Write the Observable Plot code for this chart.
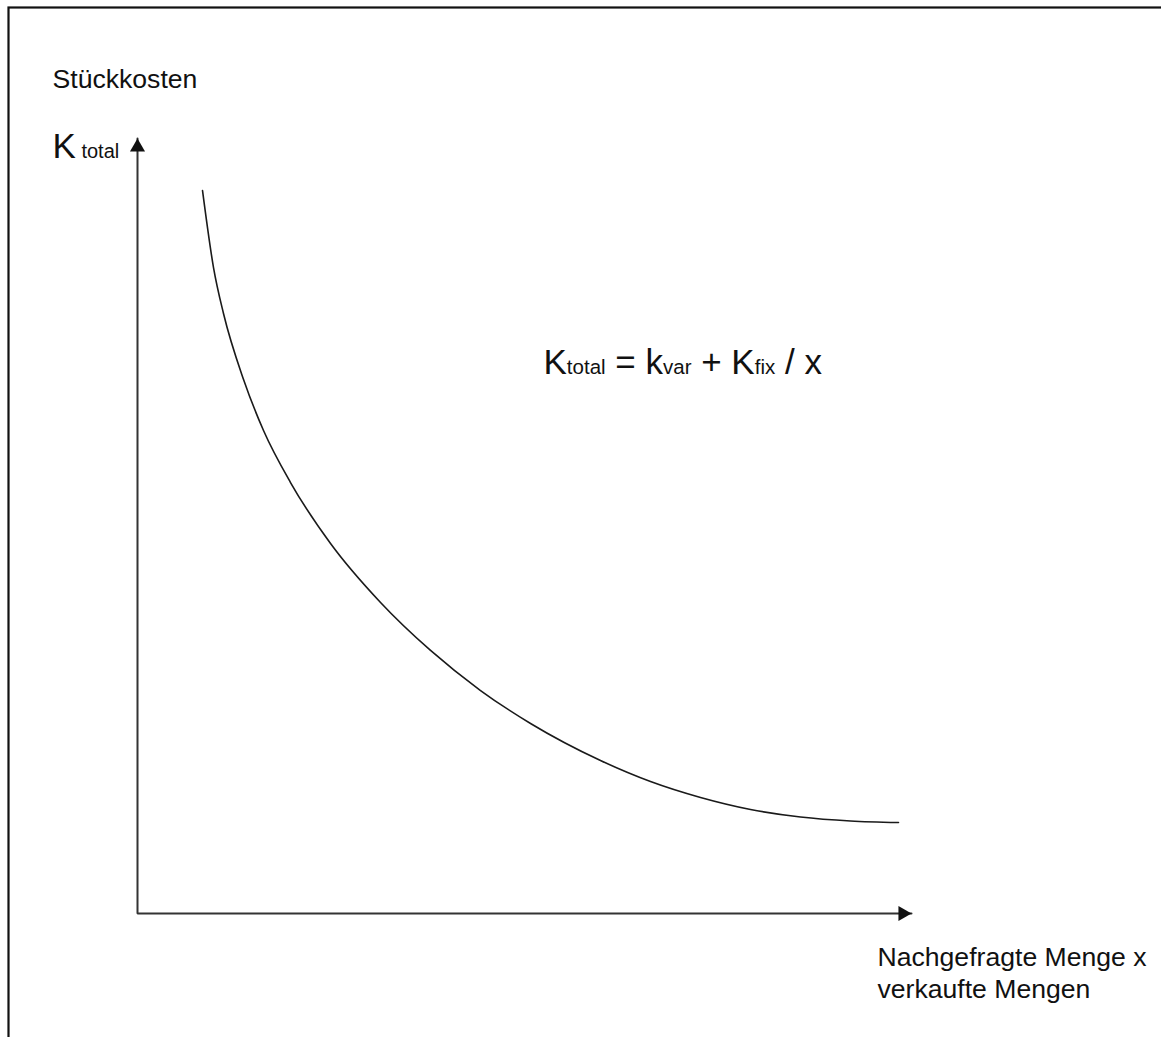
<!DOCTYPE html>
<html>
<head>
<meta charset="utf-8">
<script src="https://cdn.jsdelivr.net/npm/d3@7"></script>
<script src="https://cdn.jsdelivr.net/npm/@observablehq/plot@0.6"></script>
<style>
  html, body { margin: 0; padding: 0; background: #fff; overflow: hidden; }
  #chart svg { display: block; max-width: none; }
</style>
</head>
<body>
<div id="chart"></div>
<script>
// Quantity x (abstract units) and unit cost K_total
const quantity = [8.40, 9.82, 11.11, 13.70, 16.28, 19.77, 24.94, 31.40, 37.86, 44.32, 50.78, 59.82, 66.28, 72.74, 79.20, 85.66, 92.12, 98.32];
const unitCost = [93.29, 83.35, 77.42, 68.90, 62.32, 55.61, 47.74, 40.13, 33.94, 28.77, 24.52, 19.74, 17.03, 14.97, 13.42, 12.45, 11.94, 11.74];

// Axis extent (arrow tips)
const axisMax = 100;

// Texts
const yTitle = "Stückkosten";
const yAxisSymbol = [{t: "K", sub: false}, {t: " total", sub: true}];
const formulaParts = [
  {t: "K", sub: false}, {t: "total", sub: true},
  {t: " = k", sub: false}, {t: "var", sub: true},
  {t: " + K", sub: false}, {t: "fix", sub: true},
  {t: " / x", sub: false}
];
const xTitleLines = ["Nachgefragte Menge x", "verkaufte Mengen"];

const costData = quantity.map((q, i) => ({q, k: unitCost[i]}));
const axisPath = [{q: 0, k: axisMax}, {q: 0, k: 0}, {q: axisMax, k: 0}];

const FONT = "'Liberation Sans', Arial, Helvetica, sans-serif";
const INK = "#111";
const ySymText = yAxisSymbol.map(d => d.t).join("");
const formulaText = formulaParts.map(d => d.t).join("");

const svg = Plot.plot({
  width: 1161,
  height: 1037,
  margin: 0,
  style: {background: "#fff", fontFamily: FONT, overflow: "hidden"},
  x: {domain: [0, axisMax], range: [137, 911], axis: null},
  y: {domain: [0, axisMax], range: [913, 138], axis: null},
  marks: [
    // page border (top and left only visible)
    Plot.frame({insetLeft: 8, insetTop: 7, insetRight: -20, insetBottom: -20, stroke: "#111", strokeWidth: 2.2}),
    // axes
    Plot.line(axisPath, {x: "q", y: "k", stroke: "#333", strokeWidth: 2, strokeLinejoin: "miter", curve: "linear"}),
    Plot.dot([{q: 0, k: axisMax}], {x: "q", y: "k", symbol: "triangle", r: 5.6, fill: INK, stroke: "none", dy: 8.7}),
    Plot.dot([{q: axisMax, k: 0}], {x: "q", y: "k", symbol: "triangle", r: 5.6, fill: INK, stroke: "none", rotate: 90, dx: -8.7}),
    // cost curve
    Plot.line(costData, {x: "q", y: "k", curve: "monotone-x", stroke: "#1a1a1a", strokeWidth: 1.6}),
    // labels
    Plot.text([yTitle], {frameAnchor: "top-left", dx: 52, dy: 87, text: d => d, textAnchor: "start", lineAnchor: "bottom", fontSize: 26.6, fill: INK}),
    Plot.text([ySymText], {frameAnchor: "top-left", dx: 52, dy: 157, text: d => d, textAnchor: "start", lineAnchor: "bottom", fontSize: 35, fill: INK}),
    Plot.text([formulaText], {frameAnchor: "top-left", dx: 543, dy: 373, text: d => d, textAnchor: "start", lineAnchor: "bottom", fontSize: 35, fill: INK}),
    Plot.text([xTitleLines.join("\n")], {frameAnchor: "top-left", dx: 877, dy: 997, text: d => d, textAnchor: "start", lineAnchor: "bottom", lineHeight: 1.2, fontSize: 26.6, fill: INK})
  ]
});

// split mixed-size labels into tspans (subscripts share the baseline)
function splitSizes(str, parts, big, small) {
  const t = d3.select(svg).selectAll("text").filter(function () { return this.textContent === str; });
  if (t.empty()) return;
  t.text(null).style("white-space", "pre");
  t.selectAll("tspan").data(parts).join("tspan")
    .attr("font-size", d => d.sub ? small : big)
    .text(d => d.t);
}
splitSizes(ySymText, yAxisSymbol, 35, 20);
splitSizes(formulaText, formulaParts, 35, 20.5);

document.getElementById("chart").appendChild(svg);
</script>
</body>
</html>
